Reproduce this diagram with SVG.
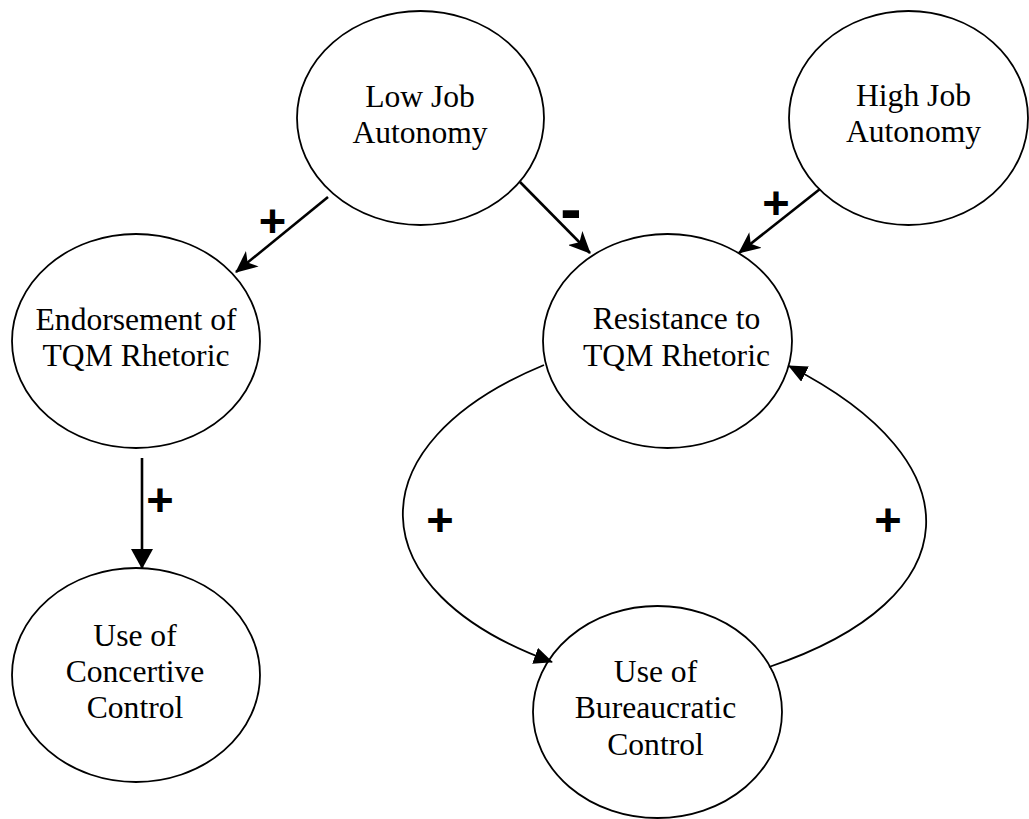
<svg xmlns="http://www.w3.org/2000/svg" width="1029" height="819" viewBox="0 0 1029 819">
<style>
  .node ellipse { fill: #ffffff; stroke: #000000; stroke-width: 1.8; }
  .label { font-family: "Liberation Serif", "DejaVu Serif", "Times New Roman", serif; font-size: 31.6px; fill: #000000; text-anchor: middle; }
  .edge { fill: none; stroke: #000000; }
  .straight { stroke-width: 2.6; }
  .curve { stroke-width: 1.8; }
  .sign { font-family: "Liberation Sans", Arial, sans-serif; font-weight: bold; fill: #000000; text-anchor: middle; }
  .plus { font-size: 47px; }
  .minus { font-size: 64px; }
</style>
<defs>
  <marker id="barb" markerUnits="userSpaceOnUse" viewBox="0 0 22 20" refX="21" refY="10" markerWidth="22" markerHeight="20" orient="auto">
    <path d="M0,0 L22,10 L0,20 L6,10 z" fill="#000000"/>
  </marker>
  <marker id="tri" markerUnits="userSpaceOnUse" viewBox="0 0 20 22" refX="19" refY="11" markerWidth="20" markerHeight="22" orient="auto">
    <path d="M0,0 L20,11 L0,22 z" fill="#000000"/>
  </marker>
  <marker id="tri2" markerUnits="userSpaceOnUse" viewBox="0 0 19 17" refX="18" refY="8.5" markerWidth="19" markerHeight="17" orient="auto">
    <path d="M0,0 L19,8.5 L0,17 z" fill="#000000"/>
  </marker>
</defs>
<rect x="0" y="0" width="1029" height="819" fill="#ffffff"/>

<g id="low-job-autonomy" class="node">
  <ellipse cx="420.5" cy="118" rx="123.5" ry="107"/>
  <text class="label" font-family="Liberation Serif, serif" x="420" y="107">Low Job</text>
  <text class="label" font-family="Liberation Serif, serif" x="420" y="143">Autonomy</text>
</g>

<g id="high-job-autonomy" class="node">
  <ellipse cx="908.5" cy="118" rx="119.5" ry="107"/>
  <text class="label" font-family="Liberation Serif, serif" x="913.5" y="106">High Job</text>
  <text class="label" font-family="Liberation Serif, serif" x="913.5" y="142">Autonomy</text>
</g>

<g id="endorsement" class="node">
  <ellipse cx="136" cy="341" rx="124" ry="107"/>
  <text class="label" font-family="Liberation Serif, serif" x="136" y="329.5">Endorsement of</text>
  <text class="label" font-family="Liberation Serif, serif" x="136" y="366">TQM Rhetoric</text>
</g>

<g id="resistance" class="node">
  <ellipse cx="667.5" cy="341" rx="124.5" ry="107"/>
  <text class="label" font-family="Liberation Serif, serif" x="676.5" y="329">Resistance to</text>
  <text class="label" font-family="Liberation Serif, serif" x="676.5" y="366">TQM Rhetoric</text>
</g>

<g id="concertive-control" class="node">
  <ellipse cx="136" cy="675" rx="124" ry="107"/>
  <text class="label" font-family="Liberation Serif, serif" x="135" y="645.5">Use of</text>
  <text class="label" font-family="Liberation Serif, serif" x="135" y="682">Concertive</text>
  <text class="label" font-family="Liberation Serif, serif" x="135" y="718">Control</text>
</g>

<g id="bureaucratic-control" class="node">
  <ellipse cx="657.5" cy="712" rx="124.5" ry="106"/>
  <text class="label" font-family="Liberation Serif, serif" x="655.5" y="682">Use of</text>
  <text class="label" font-family="Liberation Serif, serif" x="655.5" y="718">Bureaucratic</text>
  <text class="label" font-family="Liberation Serif, serif" x="655.5" y="755">Control</text>
</g>

<g id="connectors">
  <line class="edge straight" x1="328" y1="197" x2="236" y2="272" marker-end="url(#barb)"/>
  <line class="edge straight" x1="520" y1="182" x2="590" y2="253" marker-end="url(#barb)"/>
  <line class="edge straight" x1="820" y1="189" x2="739" y2="253" marker-end="url(#barb)"/>
  <line class="edge straight" x1="142" y1="458" x2="142" y2="568" marker-end="url(#tri)"/>
  <path class="edge curve" d="M544,365 C353,444 356,591 552,662" marker-end="url(#tri2)"/>
  <path class="edge curve" d="M769,667 C972,599 978,462 789,366" marker-end="url(#tri2)"/>
  <text class="sign plus" x="272.5" y="236.5">+</text>
  <text class="sign minus" x="571" y="231">-</text>
  <text class="sign plus" x="776" y="219">+</text>
  <text class="sign plus" x="160" y="516">+</text>
  <text class="sign plus" x="440" y="536">+</text>
  <text class="sign plus" x="888" y="536">+</text>
</g>
</svg>
